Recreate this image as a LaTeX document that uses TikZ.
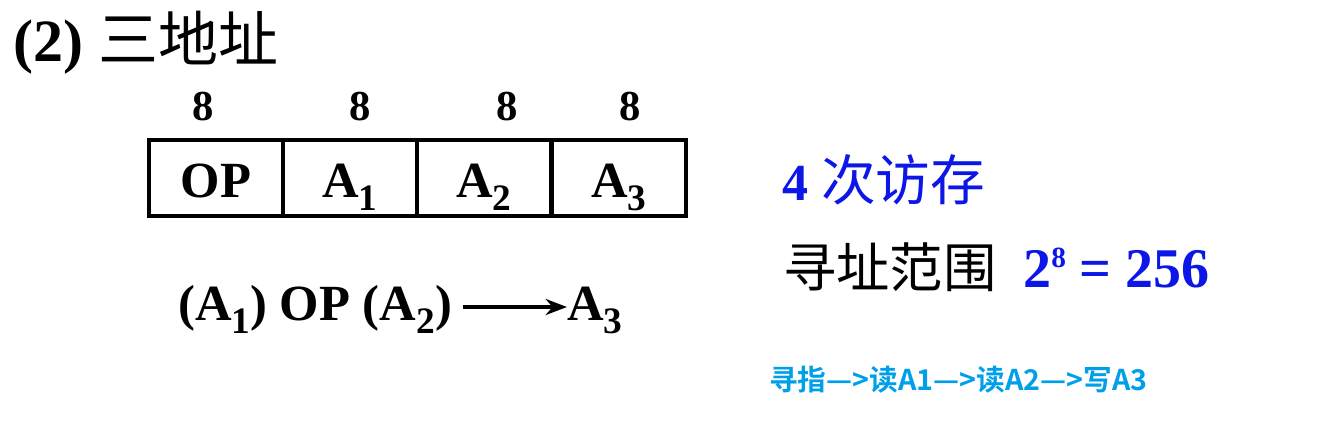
\documentclass[tikz,border=0pt]{standalone}
\usepackage{fontspec}
\setmainfont{Liberation Serif}
\newfontfamily\cjk{Noto Sans CJK SC}
\newfontfamily\cjkbold{Noto Sans CJK SC Bold}
\usetikzlibrary{positioning, arrows.meta}
\definecolor{instblue}{RGB}{12,22,230}
\definecolor{stepblue}{RGB}{0,160,233}
\newcommand{\addrsub}[1]{\raisebox{-10pt}{\fontsize{28}{28}\selectfont #1}}
\begin{document}
\begin{tikzpicture}[x=0.75pt, y=-0.75pt,
  cell/.style={draw, line width=3pt, minimum width=100.5pt, minimum height=57pt, inner sep=0pt, outer sep=0pt,
    text height=29pt, text depth=0pt, font=\fontsize{38}{40}\selectfont\bfseries},
  bits/.style={font=\fontsize{32}{34}\selectfont\bfseries},
  big/.style={inner sep=0pt, font=\fontsize{38}{40}\selectfont\bfseries}]
  \useasboundingbox (0,0) rectangle (1331,428);
  % title
  \node[big, anchor=base west, font=\fontsize{45}{47}\selectfont\bfseries] (title) at (13,62) {(2) {\cjk\mdseries 三地址}};
  % instruction format
  \node[cell] (op) at (216,178) {OP};
  \node[cell] (a1) at (350,178) {A\addrsub{1}};
  \node[cell] (a2) at (484,178) {A\addrsub{2}};
  \node[cell] (a3) at (619,178) {A\addrsub{3}};
  \node[bits] (b1) at (203,107) {8};
  \node[bits] (b2) at (360,107) {8};
  \node[bits] (b3) at (507,107) {8};
  \node[bits] (b4) at (630,107) {8};
  % operation
  \node[big, anchor=base west] (src) at (178,320) {(A\addrsub{1}) OP (A\addrsub{2})};
  \node[big, anchor=base west] (dst) at (567,320) {A\addrsub{3}};
  \draw[line width=3pt, -{Stealth[length=16pt, width=12pt]}] ([xshift=8pt]src.east |- 0,307) -- (dst.west |- 0,307);
  % notes
  \node[big, anchor=base west, text=instblue, font=\fontsize{39}{41}\selectfont\bfseries] (visits) at (782,200) {4 {\cjk\mdseries\fontsize{41}{43}\selectfont 次访存}};
  \node[big, anchor=base west, font=\fontsize{40}{42}\selectfont\bfseries] (range) at (783,287) {{\cjk\mdseries 寻址范围}\ \ \textcolor{instblue}{\fontsize{42}{44}\selectfont 2\raisebox{15pt}{\fontsize{22}{22}\selectfont 8} = 256}};
  \node[anchor=base west, inner sep=0pt, text=stepblue, font=\fontsize{21.5}{23}\selectfont\cjkbold] (steps) at (769,390) {寻指—>读A1—>读A2—>写A3};
\end{tikzpicture}
\end{document}
